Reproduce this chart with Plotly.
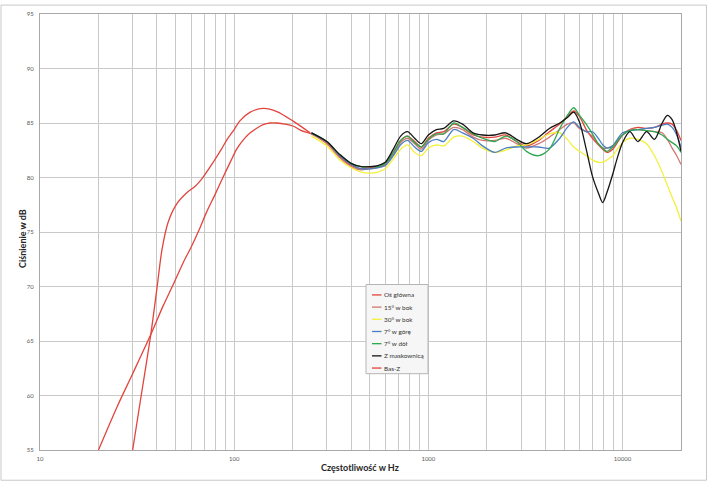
import plotly.graph_objects as go

# ---------------- data ----------------
MID_FREQ = [250, 300, 350, 400, 450, 500, 550, 600,
            660, 720, 780, 850, 920, 1000,
            1100, 1200, 1350, 1500, 1700, 1900,
            2200, 2500, 2850, 3200, 3700, 4200,
            4750, 5200, 5600, 6000, 6500, 7000,
            7500, 7900, 8300, 8900, 9400, 10000,
            10900, 12000, 13300, 14600, 16000, 17000,
            18000, 19000, 20000]

LOW_FREQ_MAIN = [20, 25, 30, 37, 43, 48, 55, 60, 66, 72, 80, 88, 96, 103,
                 112, 121, 130, 141, 153, 166, 183, 202, 222]
LOW_DB_MAIN = [55.0, 59.0, 62.0, 65.5, 68.2, 70.0, 72.3, 73.6, 75.2, 76.8, 78.5,
               80.1, 81.5, 82.6, 83.5, 84.1, 84.5, 84.85, 85.0, 85.0, 84.9, 84.7, 84.3]

OS_GLOWNA = [84.0, 83.2, 81.9, 81.1, 80.8, 80.9, 81.0, 81.2,
             82.3, 83.4, 83.8, 83.3, 82.8, 83.6,
             84.1, 84.2, 84.9, 84.6, 83.9, 83.7,
             83.7, 83.9, 83.3, 82.9, 83.4, 84.2,
             84.9, 85.6, 86.1, 85.6, 84.4, 83.6,
             83.0, 82.6, 82.3, 82.6, 83.2, 83.9,
             84.4, 84.6, 84.5, 84.6, 84.9, 85.0,
             84.9, 84.3, 83.4]

BOK_15 = [84.0, 83.1, 81.8, 81.0, 80.7, 80.8, 80.9, 81.1,
          82.1, 83.2, 83.6, 83.1, 82.6, 83.4,
          83.9, 84.0, 84.6, 84.4, 83.7, 83.4,
          83.4, 83.6, 83.1, 82.7, 83.1, 83.7,
          84.4, 84.9, 85.0, 84.5, 84.2, 83.8,
          83.1, 82.7, 82.7, 82.9, 83.4, 83.9,
          84.4, 84.4, 84.3, 84.2, 84.1, 83.5,
          82.7, 82.0, 81.2]

BOK_30 = [83.8, 82.9, 81.6, 80.9, 80.5, 80.4, 80.5, 80.8,
          81.7, 82.6, 83.0, 82.3, 82.0, 82.7,
          83.0, 82.9, 83.7, 83.8, 83.3, 82.7,
          82.3, 82.5, 82.9, 83.0, 83.5, 84.0,
          84.1, 83.5, 82.8, 82.4, 82.0, 81.6,
          81.4, 81.4, 81.6, 82.0, 82.6, 83.2,
          83.6, 83.5, 83.1, 82.0, 80.5, 79.3,
          78.2, 77.2, 76.0]

GORA_7 = [84.1, 83.3, 82.0, 81.2, 80.8, 80.8, 80.9, 81.1,
          82.0, 83.0, 83.4, 82.8, 82.4, 83.2,
          83.5, 83.3, 84.4, 84.1, 83.6, 82.9,
          82.3, 82.7, 82.8, 82.8, 82.8, 82.7,
          83.6, 84.6, 85.1, 84.6, 84.2, 84.2,
          83.6, 83.0, 82.7, 82.9, 83.5, 84.1,
          84.3, 84.4, 84.5, 84.6, 84.8, 84.9,
          84.6, 83.9, 82.8]

DOL_7 = [84.1, 83.3, 82.1, 81.3, 81.0, 81.0, 81.0, 81.3,
         82.3, 83.4, 83.8, 83.2, 82.8, 83.5,
         84.0, 84.0, 85.0, 84.6, 84.0, 83.6,
         83.3, 83.8, 83.3, 82.4, 82.0, 82.6,
         84.5, 85.7, 86.4, 85.7, 84.9, 84.0,
         83.1, 82.7, 82.4, 82.8, 83.3, 83.9,
         84.3, 84.4, 84.3, 84.2, 83.9, 83.5,
         83.2, 82.9, 82.3]

MASKOWNICA = [84.1, 83.3, 82.1, 81.3, 81.0, 81.0, 81.1, 81.4,
              82.6, 83.8, 84.2, 83.6, 83.1, 83.9,
              84.4, 84.5, 85.2, 84.9, 84.1, 83.9,
              83.9, 84.1, 83.5, 83.1, 83.7, 84.5,
              85.0, 85.5, 86.0, 85.1, 82.6, 80.1,
              78.6, 77.7, 78.6, 80.3, 81.8, 83.2,
              84.2, 83.3, 84.2, 83.5, 85.0, 85.7,
              85.3, 84.1, 82.4]

BASS_FREQ = [30, 33, 37, 40, 42.5, 45.7, 50.7, 57, 63, 68, 78, 86, 92, 100,
             107, 121, 141, 166, 202, 246]
BASS_DB = [55.0, 59.7, 65.3, 69.8, 73.4, 75.9, 77.6, 78.6, 79.2, 79.85, 81.4,
           82.6, 83.5, 84.4, 85.2, 86.0, 86.35, 86.05, 85.15, 84.1]

X_TICK_VALS = [10, 20, 30, 40, 50, 60, 70, 80, 90,
               100, 200, 300, 400, 500, 600, 700, 800, 900,
               1000, 2000, 3000, 4000, 5000, 6000, 7000, 8000, 9000,
               10000, 20000]
X_TICK_TEXT = ["10", "", "", "", "", "", "", "", "",
               "100", "", "", "", "", "", "", "", "",
               "1000", "", "", "", "", "", "", "", "",
               "10000", ""]

SERIES_NAMES = ["Oś główna", "15° w bok", "30° w bok", "7° w górę",
                "7° w dół", "Z maskownicą", "Bas-Z"]
SERIES_COLORS = ["#e3443c", "#d27671", "#f3f03c", "#4a7fc1",
                 "#2fa84f", "#151515", "#e3443c"]

# ---------------- figure ----------------
W, H = 708, 482
ML, MR, MT, MB = 40, 27, 10, 32
PW, PH = W - ML - MR, H - MT - MB

fig = go.Figure()
xs = [LOW_FREQ_MAIN + MID_FREQ, MID_FREQ, MID_FREQ, MID_FREQ, MID_FREQ, MID_FREQ, BASS_FREQ]
ys = [LOW_DB_MAIN + OS_GLOWNA, BOK_15, BOK_30, GORA_7, DOL_7, MASKOWNICA, BASS_DB]
for name, color, x, y in zip(SERIES_NAMES, SERIES_COLORS, xs, ys):
    fig.add_trace(go.Scatter(x=x, y=y, name=name, mode="lines",
                             line=dict(color=color, width=1.3, shape="spline", smoothing=0.8),
                             showlegend=False))

grid_c = "#c9c9c9"
fig.update_xaxes(type="log", range=[1, 4.30103], tickvals=X_TICK_VALS, ticktext=X_TICK_TEXT,
                 showgrid=True, gridcolor=grid_c, gridwidth=1, zeroline=False,
                 showline=True, linecolor="#a8a8a8", linewidth=1, mirror=True,
                 ticks="", tickfont=dict(family="Lato", size=6, color="#595959"),
                 ticklabelstandoff=3)
fig.update_yaxes(range=[55, 95], dtick=5, tick0=55,
                 showgrid=True, gridcolor=grid_c, gridwidth=1, zeroline=False,
                 showline=True, linecolor="#a8a8a8", linewidth=1, mirror=True,
                 ticks="", tickfont=dict(family="Lato", size=6, color="#595959"),
                 ticklabelstandoff=4)

def px(x):
    return (x - ML) / PW

def py(y):
    return (H - MB - y) / PH

shapes = []
annotations = []
# outer chart frame
shapes.append(dict(type="rect", xref="paper", yref="paper",
                   x0=px(1), x1=px(706.5), y0=py(480.5), y1=py(1),
                   line=dict(color="#c8c8c8", width=1), fillcolor="rgba(0,0,0,0)", layer="below"))
# legend box
shapes.append(dict(type="rect", xref="paper", yref="paper",
                   x0=px(366), x1=px(428), y0=py(373), y1=py(283),
                   line=dict(color="#b5b5b5", width=1), fillcolor="#f6f6f6", layer="above"))
for i, (name, color) in enumerate(zip(SERIES_NAMES, SERIES_COLORS)):
    yy = 293.5 + 12.3 * i
    shapes.append(dict(type="line", xref="paper", yref="paper",
                       x0=px(372), x1=px(381.5), y0=py(yy), y1=py(yy),
                       line=dict(color=color, width=1.3), layer="above"))
    annotations.append(dict(text=name, xref="paper", yref="paper", x=px(382), y=py(yy),
                            xanchor="left", yanchor="middle", showarrow=False,
                            font=dict(family="Lato", size=6.4, color="#333333")))

annotations.append(dict(text="<b>Ciśnienie w dB</b>", xref="paper", yref="paper",
                        x=px(23), y=py(237), textangle=-90, showarrow=False,
                        xanchor="center", yanchor="middle",
                        font=dict(family="Lato", size=9, color="#262626")))
annotations.append(dict(text="<b>Częstotliwość w Hz</b>", xref="paper", yref="paper",
                        x=px(360), y=py(468), showarrow=False,
                        xanchor="center", yanchor="middle",
                        font=dict(family="Lato", size=9, color="#262626")))

fig.update_layout(width=W, height=H, margin=dict(l=ML, r=MR, t=MT, b=MB, pad=0),
                  paper_bgcolor="white", plot_bgcolor="white",
                  shapes=shapes, annotations=annotations, showlegend=False)

fig.write_html("out.html", config={"displayModeBar": False},
               post_script="document.body.style.margin='0';document.body.style.padding='0';")
